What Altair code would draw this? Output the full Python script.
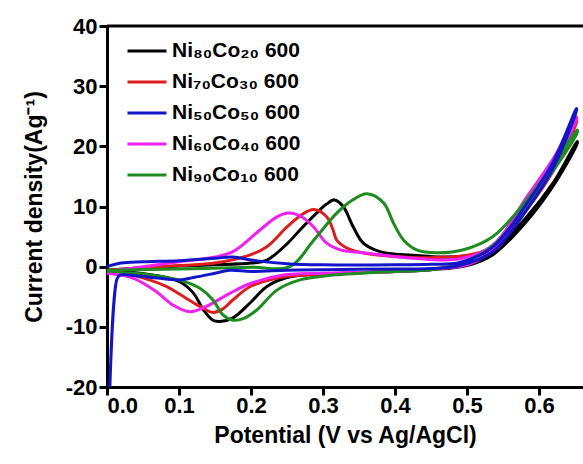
import altair as alt
import pandas as pd

names = ["Ni₈₀Co₂₀ 600", "Ni₇₀Co₃₀ 600", "Ni₅₀Co₅₀ 600", "Ni₆₀Co₄₀ 600", "Ni₉₀Co₁₀ 600"]
colors = ["#000000", "#dc1e1e", "#1414c8", "#f020f0", "#1e8c1e"]

x_ticks = [0.0, 0.1, 0.2, 0.3, 0.4, 0.5, 0.6]
y_ticks = [-20, -10, 0, 10, 20, 30, 40]

# Ni80Co20 (black)
bk_fx = [0.0, 0.05, 0.1, 0.15, 0.2, 0.222, 0.25, 0.268, 0.291, 0.305, 0.316, 0.328, 0.342, 0.356, 0.379, 0.425, 0.47, 0.5, 0.536, 0.583, 0.62, 0.653]
bk_fy = [-0.6, -0.2, 0.1, 0.3, 0.6, 1.1, 3.8, 6.1, 8.9, 10.4, 11.1, 10.0, 6.6, 3.9, 2.5, 1.9, 1.6, 1.8, 2.8, 8.3, 14.0, 20.8]
bk_rx = [0.653, 0.62, 0.583, 0.536, 0.5, 0.45, 0.4, 0.35, 0.3, 0.25, 0.222, 0.199, 0.175, 0.157, 0.147, 0.134, 0.12, 0.101, 0.07, 0.04, 0.0]
bk_ry = [20.5, 13.5, 7.6, 2.0, 0.2, -0.5, -0.8, -1.0, -1.2, -1.8, -3.3, -6.0, -8.5, -9.1, -8.9, -7.2, -4.4, -2.5, -1.5, -1.0, -0.6]

# Ni70Co30 (red)
rd_fx = [0.0, 0.05, 0.1, 0.15, 0.2, 0.222, 0.25, 0.27, 0.287, 0.305, 0.314, 0.319, 0.333, 0.36, 0.4, 0.45, 0.5, 0.536, 0.583, 0.62, 0.652]
rd_fy = [-0.6, -0.2, 0.2, 0.6, 2.0, 3.3, 6.6, 8.6, 9.5, 8.3, 6.1, 4.4, 3.1, 2.2, 1.7, 1.5, 1.9, 3.3, 10.5, 17.0, 24.5]
rd_rx = [0.652, 0.62, 0.583, 0.536, 0.5, 0.45, 0.4, 0.35, 0.3, 0.25, 0.236, 0.199, 0.175, 0.16, 0.147, 0.129, 0.1, 0.083, 0.036, 0.0]
rd_ry = [24.0, 16.0, 9.5, 2.8, 0.4, -0.4, -0.8, -1.0, -1.3, -1.6, -1.9, -3.3, -5.5, -7.1, -7.6, -6.6, -4.5, -3.3, -1.4, -0.6]

# Ni50Co50 (blue)
bl_fx = [0.0, 0.02, 0.05, 0.1, 0.15, 0.175, 0.2, 0.25, 0.3, 0.4, 0.45, 0.49, 0.536, 0.583, 0.62, 0.652]
bl_fy = [0.0, 0.6, 0.8, 1.0, 1.4, 1.6, 1.1, 0.5, 0.3, 0.3, 0.4, 0.7, 3.3, 10.5, 17.5, 26.3]
bl_rx = [0.652, 0.62, 0.583, 0.536, 0.49, 0.45, 0.4, 0.3, 0.25, 0.2, 0.171, 0.15, 0.12, 0.1, 0.07, 0.04, 0.018, 0.014, 0.004]
bl_ry = [26.0, 16.5, 9.5, 2.5, 0.2, -0.3, -0.4, -0.5, -0.6, -0.8, -0.6, -1.1, -1.8, -2.2, -1.9, -1.5, -1.4, -2.0, -20.0]

# Ni60Co40 (magenta)
mg_fx = [0.0, 0.05, 0.1, 0.15, 0.175, 0.2125, 0.235, 0.252, 0.27, 0.287, 0.305, 0.324, 0.356, 0.425, 0.49, 0.536, 0.583, 0.62, 0.652]
mg_fy = [-0.8, 0.0, 0.8, 1.6, 2.5, 6.1, 8.2, 8.9, 8.3, 6.6, 3.9, 2.8, 2.3, 1.4, 1.3, 3.6, 11.6, 18.0, 24.9]
mg_rx = [0.652, 0.62, 0.583, 0.536, 0.5, 0.45, 0.4, 0.3, 0.245, 0.199, 0.171, 0.138, 0.115, 0.092, 0.069, 0.036, 0.0]
mg_ry = [24.5, 17.0, 10.5, 2.8, 0.3, -0.4, -0.8, -1.1, -1.4, -2.8, -4.4, -6.6, -7.5, -6.4, -4.2, -1.9, -1.1]

# Ni90Co10 (green)
gn_fx = [0.0, 0.1, 0.2, 0.254, 0.287, 0.319, 0.34, 0.361, 0.384, 0.398, 0.412, 0.43, 0.458, 0.495, 0.536, 0.583, 0.62, 0.653]
gn_fy = [-0.6, -0.4, -0.1, 0.0, 4.4, 8.9, 11.0, 12.1, 10.6, 7.2, 4.4, 2.8, 2.3, 2.8, 5.0, 11.1, 17.0, 22.7]
gn_rx = [0.653, 0.62, 0.583, 0.536, 0.49, 0.45, 0.4, 0.35, 0.314, 0.268, 0.236, 0.208, 0.19, 0.175, 0.161, 0.147, 0.129, 0.1, 0.05, 0.0]
gn_ry = [22.3, 16.0, 10.0, 3.5, 0.5, -0.5, -0.8, -1.1, -1.4, -2.2, -3.9, -7.2, -8.6, -8.9, -8.0, -5.5, -3.6, -2.2, -1.2, -0.7]

series = [
    (names[0], bk_fx + bk_rx, bk_fy + bk_ry),
    (names[1], rd_fx + rd_rx, rd_fy + rd_ry),
    (names[3], mg_fx + mg_rx, mg_fy + mg_ry),
    (names[4], gn_fx + gn_rx, gn_fy + gn_ry),
    (names[2], bl_fx + bl_rx, bl_fy + bl_ry),
]
rows = []
for name, xs, ys in series:
    for i, (xv, yv) in enumerate(zip(xs, ys)):
        rows.append({"series": name, "V": xv, "J": yv, "seq": i})
df = pd.DataFrame(rows)

W, H = 476, 361
FONT = "Liberation Sans"

lines = alt.Chart(df).mark_line(strokeWidth=3, interpolate="catmull-rom", clip=True).encode(
    x=alt.X("V:Q", scale=alt.Scale(domain=[0, 0.661], nice=False, zero=False),
            axis=alt.Axis(values=x_ticks, format=".1f", title="Potential (V vs Ag/AgCl)",
                          labelPadding=0, titlePadding=8)),
    y=alt.Y("J:Q", scale=alt.Scale(domain=[-20, 40], nice=False),
            axis=alt.Axis(values=y_ticks, labelExpr="'' + datum.value", title="Current density(Ag⁻¹)",
                          labelPadding=2, titlePadding=19)),
    color=alt.Color("series:N", scale=alt.Scale(domain=names, range=colors),
                    legend=alt.Legend(title=None, orient="none", legendX=19, legendY=4,
                                      symbolType="stroke", symbolSize=1521, symbolStrokeWidth=3,
                                      labelFontSize=21, labelFont=FONT, labelFontWeight="bold",
                                      labelColor="black", labelOffset=4, rowPadding=0, padding=0,
                                      symbolOpacity=1)),
    detail="series:N",
    order="seq:Q",
)

top = alt.Chart(pd.DataFrame({"a": [0]})).mark_rule(strokeWidth=3, color="black").encode(
    x=alt.value(0), x2=alt.value(W), y=alt.value(0)
)

chart = alt.layer(lines, top).properties(
    width=W, height=H,
    autosize=alt.AutoSizeParams(type="none"),
    padding={"left": 107, "top": 26, "right": 0, "bottom": 77},
    background="white",
).configure_view(strokeWidth=0).configure_axis(
    domainColor="black", domainWidth=3, tickColor="black", tickWidth=3, tickSize=8,
    labelFont=FONT, labelFontSize=22, labelFontWeight="bold", labelColor="black",
    titleFont=FONT, titleFontSize=23, titleFontWeight="bold", titleColor="black", grid=False,
)

chart.save("out.html", embed_options={"renderer": "svg", "actions": False})
